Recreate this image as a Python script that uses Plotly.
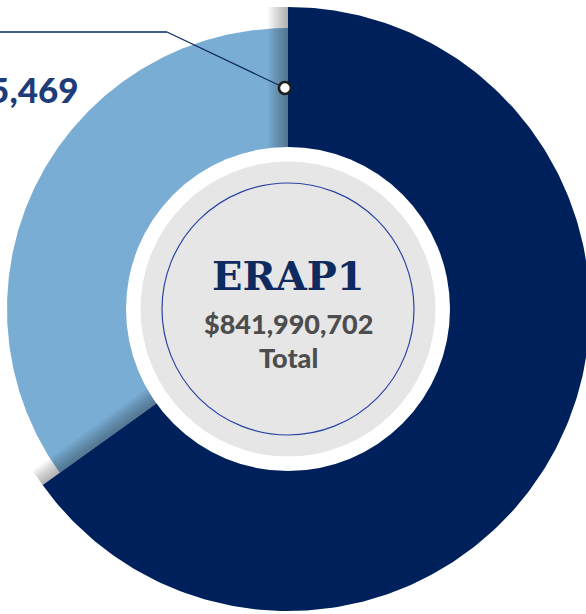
import numpy as np
import plotly.graph_objects as go

# ---- data ----
categories = ["Category A", "Category B"]
values = [293935469, 548055233]
colors = ["#7AADD3", "#00205B"]
center_title = "ERAP1"
center_sub = "Total"

total = sum(values)
frac_light = values[0] / total

# ---- geometry (pixel-like units, centre at 0,0) ----
R_DARK, R_LIGHT = 302, 281
R_HOLE, R_GRAY, R_RING = 162, 147.5, 126


def pt(a_deg, r):
    a = np.radians(a_deg)
    return r * np.sin(a), r * np.cos(a)


def sector(a0, a1, r_out, r_in=0, n=240):
    angs = np.linspace(a0, a1, n)
    xo, yo = pt(angs, r_out)
    if r_in > 0:
        xi, yi = pt(angs[::-1], r_in)
    else:
        xi, yi = np.array([0.0]), np.array([0.0])
    x = np.concatenate([xo, xi, xo[:1]])
    y = np.concatenate([yo, yi, yo[:1]])
    return x, y


fig = go.Figure()

# light segment: counter-clockwise from 12 o'clock
a_light_end = -frac_light * 360
x, y = sector(a_light_end, 0, R_LIGHT)
fig.add_trace(go.Scatter(x=x, y=y, fill="toself", fillcolor=colors[0],
                         line=dict(width=0), mode="lines", hoverinfo="skip",
                         name=categories[0]))

# soft shadow cast by the dark segment onto the light side
def shadow(edge_a, side, width=20, n=12, alpha=0.028):
    ux, uy = np.sin(np.radians(edge_a)), np.cos(np.radians(edge_a))
    px, py = np.cos(np.radians(edge_a)) * side, -np.sin(np.radians(edge_a)) * side
    for i in range(n):
        w = width * (i + 1) / n
        r_in, r_out = 140, R_DARK
        xs = [ux * r_in, ux * r_out, ux * r_out + px * w, ux * r_in + px * w, ux * r_in]
        ys = [uy * r_in, uy * r_out, uy * r_out + py * w, uy * r_in + py * w, uy * r_in]
        fig.add_trace(go.Scatter(x=xs, y=ys, fill="toself",
                                 fillcolor=f"rgba(0,0,0,{alpha})",
                                 line=dict(width=0), mode="lines",
                                 hoverinfo="skip", showlegend=False))

shadow(0, -1)
shadow(360 + a_light_end, 1, width=18)

# dark segment: clockwise from 12 o'clock
x, y = sector(0, 360 + a_light_end, R_DARK)
fig.add_trace(go.Scatter(x=x, y=y, fill="toself", fillcolor=colors[1],
                         line=dict(width=0), mode="lines", hoverinfo="skip",
                         name=categories[1]))

# leader line and marker for the light segment label
mx, my = pt(-0.8, 221)
fig.add_trace(go.Scatter(x=[-300, -121], y=[277, 277], mode="lines",
                         line=dict(color="#3F5F91", width=2), hoverinfo="skip"))
fig.add_trace(go.Scatter(x=[-121, mx], y=[277, my], mode="lines",
                         line=dict(color="#0E2A5C", width=1.2), hoverinfo="skip"))
fig.add_trace(go.Scatter(x=[mx], y=[my], mode="markers",
                         marker=dict(size=12, color="white",
                                     line=dict(color="#1E1E1E", width=2.6)),
                         hoverinfo="skip"))

shapes = [
    dict(type="circle", xref="x", yref="y", x0=-R_HOLE, x1=R_HOLE, y0=-R_HOLE, y1=R_HOLE,
         fillcolor="white", line=dict(width=0), layer="above"),
    dict(type="circle", xref="x", yref="y", x0=-R_GRAY, x1=R_GRAY, y0=-R_GRAY, y1=R_GRAY,
         fillcolor="#E6E6E6", line=dict(width=0), layer="above"),
    dict(type="circle", xref="x", yref="y", x0=-R_RING, x1=R_RING, y0=-R_RING, y1=R_RING,
         fillcolor="rgba(0,0,0,0)", line=dict(color="#2B44A3", width=1.2), layer="above"),
]

annotations = [
    dict(x=0, y=34, text=center_title, showarrow=False,
         font=dict(family="DejaVu Serif", size=40, color="#0F2A5F", weight=900),
         xanchor="center", yanchor="middle"),
    dict(x=0, y=-14, text=f"${total:,}", showarrow=False,
         font=dict(family="Lato", size=27, color="#4D4D4D", weight=900),
         xanchor="center", yanchor="middle"),
    dict(x=0, y=-48, text=center_sub, showarrow=False,
         font=dict(family="Lato", size=27, color="#4D4D4D", weight=900),
         xanchor="center", yanchor="middle"),
    dict(x=-207, y=220, text=f"${values[0]:,}", showarrow=False,
         font=dict(family="Lato", size=35, color="#1C3D78", weight=900),
         xanchor="right", yanchor="middle"),
]

fig.update_layout(
    width=586, height=614,
    margin=dict(l=0, r=0, t=0, b=0),
    paper_bgcolor="white", plot_bgcolor="white",
    showlegend=False,
    xaxis=dict(range=[-288, 298], visible=False, fixedrange=True),
    yaxis=dict(range=[-305, 309], visible=False, fixedrange=True),
    shapes=shapes,
    annotations=annotations,
)

fig.write_html("out.html")
